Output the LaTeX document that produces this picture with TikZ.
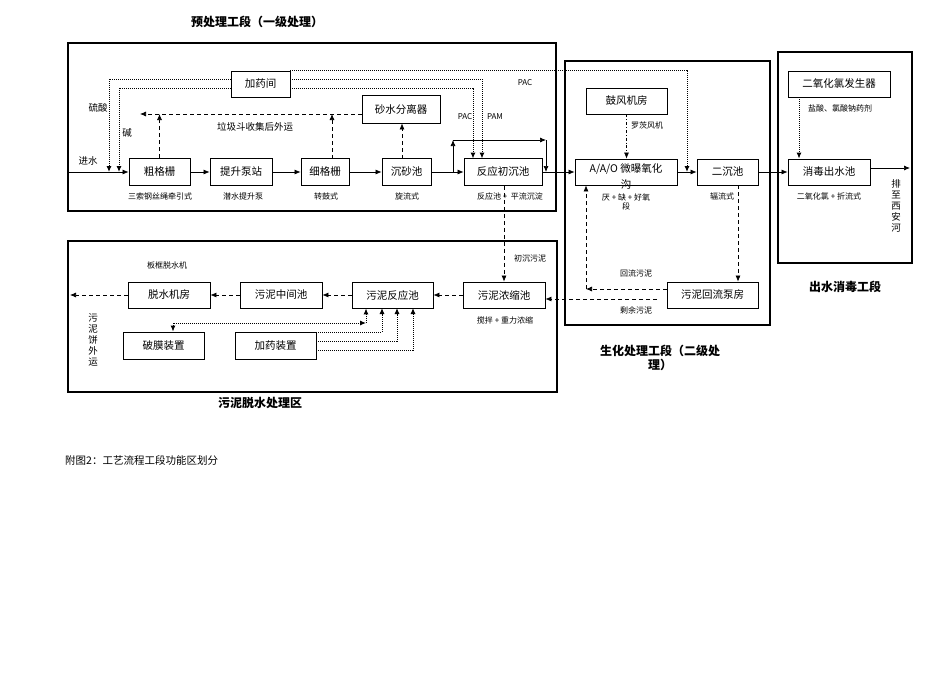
\documentclass[tikz,border=0pt]{standalone}
\usepackage{fontspec}
\setmainfont{Noto Sans CJK SC}
\usetikzlibrary{arrows.meta}
\begin{document}
\begin{tikzpicture}[x=1pt,y=-1pt,
  box/.style={draw,line width=0.8pt,minimum height=27pt,font=\fontsize{10.5}{11}\selectfont,inner sep=0pt},
  frame/.style={draw,line width=2.8pt},
  lbl/.style={font=\fontsize{8}{9.5}\selectfont,inner sep=0pt},
  ttl/.style={font=\bfseries\fontsize{12}{14}\selectfont,inner sep=0pt},
  flow/.style={line width=0.7pt,-{Latex[length=6pt,width=5pt]}},
  dflow/.style={flow,dash pattern=on 4pt off 3pt},
  pflow/.style={flow,line width=1pt,dash pattern=on 1pt off 1pt}]
\useasboundingbox (0,0) rectangle (950,672);
% frames
\draw[frame] (68,43) rectangle (556,211);
\draw[frame] (565,61) rectangle (770,325);
\draw[frame] (778,52) rectangle (912,263);
\draw[frame] (68,241) rectangle (557,392);
% titles
\node[ttl] (t1) at (257,22) {预处理工段（一级处理）};
\node[ttl,align=center] (t2) at (660,358) {生化处理工段（二级处\\理）};
\node[ttl] (t3) at (845,287) {出水消毒工段};
\node[ttl] (t4) at (260,403) {污泥脱水处理区};
\node[font=\fontsize{10.5}{12}\selectfont,anchor=west,inner sep=0pt] (cap) at (65,460) {附图2：工艺流程工段功能区划分};
% nodes stage 1
\node[box,minimum width=61pt] (cgs) at (159.5,172) {粗格栅};
\node[box,minimum width=62pt] (tsbz) at (241,172) {提升泵站};
\node[box,minimum width=48pt] (xgs) at (325,172) {细格栅};
\node[box,minimum width=49pt] (csc) at (406.5,172) {沉砂池};
\node[box,minimum width=78pt] (fycc) at (503,172) {反应初沉池};
\node[box,minimum width=59pt,minimum height=26pt] (jyj) at (260.5,84) {加药间};
\node[box,minimum width=78pt,minimum height=28pt] (ssf) at (401,109) {砂水分离器};
% bio
\node[box,minimum width=81pt,minimum height=26pt] (gfj) at (626.5,101) {鼓风机房};
\node[box,minimum width=102pt,minimum height=26pt] (aao) at (626,172) {};
\node[box,draw=none,align=center,font=\fontsize{10.5}{16}\selectfont] (aaot) at (626,177) {A/A/O 微曝氧化\\沟};
\node[box,minimum width=61pt,minimum height=26pt] (ecc) at (727.5,172) {二沉池};
\node[box,minimum width=91pt,minimum height=26pt] (hlbf) at (712.5,295) {污泥回流泵房};
% disinfection
\node[box,minimum width=102pt,minimum height=26pt] (eyh) at (839,84) {二氧化氯发生器};
\node[box,minimum width=82pt,minimum height=26pt] (xdcs) at (829,172) {消毒出水池};
% sludge
\node[box,minimum width=82pt,minimum height=26pt] (nsc) at (504,295) {污泥浓缩池};
\node[box,minimum width=81pt,minimum height=26pt] (fyc) at (392.5,295) {污泥反应池};
\node[box,minimum width=82pt,minimum height=26pt] (zjc) at (281,295) {污泥中间池};
\node[box,minimum width=82pt,minimum height=26pt] (tsj) at (169,295) {脱水机房};
\node[box,minimum width=81pt] (pm) at (163.5,345.5) {破膜装置};
\node[box,minimum width=81pt] (jyz) at (275.5,345.5) {加药装置};
% labels
\node[lbl,font=\fontsize{9.5}{10}\selectfont] (l1) at (88,161) {进水};
\node[lbl,font=\fontsize{9.5}{10}\selectfont] (l2) at (98,108) {硫酸};
\node[lbl,font=\fontsize{9.5}{10}\selectfont] (l3) at (127,133) {碱};
\node[lbl,font=\fontsize{9.5}{10}\selectfont] (l4) at (255,127) {垃圾斗收集后外运};
\node[lbl] (l5) at (160,196) {三索钢丝绳牵引式};
\node[lbl] (l6) at (243,196) {潜水提升泵};
\node[lbl] (l7) at (326,196) {转鼓式};
\node[lbl] (l8) at (407,196) {旋流式};
\node[lbl] (l9) at (510,196) {反应池 +\ \ 平流沉淀};
\node[lbl] (l10) at (525,83) {PAC};
\node[lbl] (l11) at (465,117) {PAC};
\node[lbl] (l12) at (495,117) {PAM};
\node[lbl] (l13) at (647,125) {罗茨风机};
\node[lbl,align=center] (l14) at (626,202) {厌 + 缺 + 好氧\\段};
\node[lbl] (l15) at (722,196) {辐流式};
\node[lbl] (l16) at (840,108) {盐酸、氯酸钠药剂};
\node[lbl] (l17) at (829,196) {二氧化氯 + 折流式};
\node[lbl,align=center,font=\fontsize{9.5}{11}\selectfont] (l18) at (896,206) {排\\至\\西\\安\\河};
\node[lbl] (l19) at (530,258) {初沉污泥};
\node[lbl] (l20) at (636,273) {回流污泥};
\node[lbl] (l21) at (636,310) {剩余污泥};
\node[lbl] (l22) at (505,320) {搅拌 + 重力浓缩};
\node[lbl] (l23) at (167,265) {板框脱水机};
\node[lbl,align=center,font=\fontsize{9.5}{11}\selectfont] (l24) at (93,340) {污\\泥\\饼\\外\\运};
% main flow
\coordinate (in) at (68,172);
\draw[flow] (in) -- (cgs);
\draw[flow] (cgs) -- (tsbz);
\draw[flow] (tsbz) -- (xgs);
\draw[flow] (xgs) -- (csc);
\draw[flow] (csc) -- (fycc);
\draw[flow] (453,172) -- (453,140);
\draw[flow] (453,140) -- (546,140);
\draw[flow] (546,140) -- (546,172);
\draw[flow] (fycc) -- (aao);
\draw[flow] (aao) -- (ecc);
\draw[flow] (ecc) -- (xdcs);
\draw[flow] (xdcs.east |- 0,168) -- (910,168);
% chemicals
\draw[pflow] (jyj.west |- 0,79) -| (109,172);
\draw[pflow] (jyj.west |- 0,88) -| (119,172);
\draw[pflow] (jyj.east |- 0,79) -| (482,158.5);
\draw[pflow] (jyj.east |- 0,88) -| (473,158.5);
\draw[pflow] (jyj.east |- 0,70) -| (687,172);
\draw[pflow] (eyh.south -| 799,0) -- (xdcs.north -| 799,0);
% grit
\draw[dflow] (ssf.west |- 0,114) -- (140,114);
\draw[dflow] (cgs.north) -- (159.5,114);
\draw[dflow] (332,158.5) -- (332,114);
\draw[dflow] (402,158.5) -- (ssf.south -| 402,0);
\draw[flow,dash dot] (gfj) -- (aao.north -| gfj);
% sludge
\draw[dflow] (fycc.south -| 504,0) -- (nsc);
\draw[dflow] (ecc.south -| 738,0) -- (hlbf.north -| 738,0);
\draw[dflow] (hlbf.west |- 0,289) -- (586,289);
\draw[dflow] (586,289) -- (aao.south -| 586,0);
\draw[dflow] (657,299) -- (nsc.east |- 0,299);
\draw[dflow] (nsc) -- (fyc);
\draw[dflow] (fyc) -- (zjc);
\draw[dflow] (zjc) -- (tsj);
\draw[dflow] (tsj) -- (70,295);
\draw[pflow,{Latex[length=6pt,width=5pt]}-{Latex[length=6pt,width=5pt]}] (pm.north -| 173,0) |- (366,323);
\draw[pflow] (366,323) -- (fyc.south -| 366,0);
\draw[pflow] (jyz.east |- 0,332) -| (382,308);
\draw[pflow] (jyz.east |- 0,341) -| (397,308);
\draw[pflow] (jyz.east |- 0,350) -| (413,308);
\end{tikzpicture}
\end{document}
